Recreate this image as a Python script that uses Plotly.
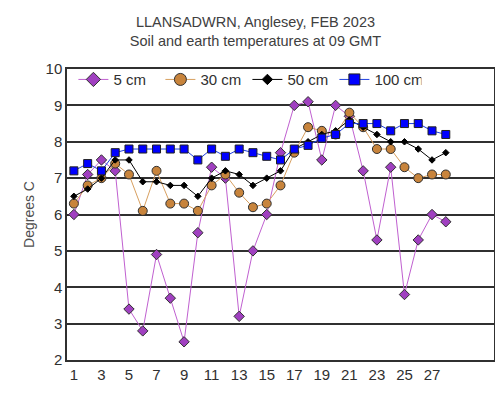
import plotly.graph_objects as go

days = list(range(1, 29))
t5 = [6.0, 7.1, 7.5, 7.2, 3.4, 2.8, 4.9, 3.7, 2.5, 5.5, 7.3, 7.0, 3.2, 5.0, 6.0, 7.7,
      9.0, 9.1, 7.5, 9.0, 8.7, 7.2, 5.3, 7.3, 3.8, 5.3, 6.0, 5.8]
t30 = [6.3, 6.8, 7.0, 7.4, 7.1, 6.1, 7.2, 6.3, 6.3, 6.1, 6.8, 7.1, 6.6, 6.2, 6.3, 6.8,
       7.7, 8.4, 8.3, 8.2, 8.8, 8.4, 7.8, 7.8, 7.3, 7.0, 7.1, 7.1]
t50 = [6.5, 6.7, 7.0, 7.5, 7.5, 6.9, 6.9, 6.8, 6.8, 6.5, 7.0, 7.2, 7.1, 6.8, 7.0, 7.2,
       7.8, 8.0, 8.2, 8.3, 8.6, 8.4, 8.2, 8.0, 8.0, 7.8, 7.5, 7.7]
t100 = [7.2, 7.4, 7.2, 7.7, 7.8, 7.8, 7.8, 7.8, 7.8, 7.5, 7.8, 7.6, 7.8, 7.7, 7.6, 7.5,
        7.8, 7.9, 8.1, 8.2, 8.5, 8.5, 8.5, 8.3, 8.5, 8.5, 8.3, 8.2]
x_ticks = list(range(1, 28, 2))

series = [
    ("5 cm", t5, "#C060D0", "diamond", 8, 11, "#A040C0", "#303030"),
    ("30 cm", t30, "#D8A060", "circle", 9, 12, "#C8843C", "#303030"),
    ("50 cm", t50, "#000000", "diamond", 5, 8, "#000000", "#000000"),
    ("100 cm", t100, "#2040E0", "square", 8, 11, "#0000FF", "#202020"),
]

fig = go.Figure()
for name, vals, lc, sym, sz, lsz, fc, oc in series:
    fig.add_trace(go.Scatter(x=days, y=vals, name=name, mode="lines+markers",
                             showlegend=False, legendgroup=name,
                             line=dict(color=lc, width=1),
                             marker=dict(symbol=sym, size=sz, color=fc,
                                         line=dict(color=oc, width=1))))
for name, vals, lc, sym, sz, lsz, fc, oc in series:
    fig.add_trace(go.Scatter(x=[None], y=[None], name=name, mode="lines+markers",
                             legendgroup=name,
                             line=dict(color=lc, width=1),
                             marker=dict(symbol=sym, size=lsz, color=fc,
                                         line=dict(color=oc, width=1))))

fig.update_layout(
    width=495, height=389,
    margin=dict(l=59, r=7, t=61, b=37),
    paper_bgcolor="white", plot_bgcolor="white",
    font=dict(family="Arial, Liberation Sans, sans-serif", size=15, color="#404040"),
    title=dict(text="LLANSADWRN, Anglesey, FEB 2023<br>Soil and earth temperatures at 09 GMT",
               x=0.5, xref="container", xanchor="center", y=0.952, yanchor="middle",
               font=dict(size=14.5, color="#404040")),
    showlegend=True,
    legend=dict(orientation="h", x=0.015, y=1.02, xanchor="left", yanchor="top",
                bgcolor="rgba(255,255,255,0)", font=dict(size=15, color="#303030"),
                entrywidth=42, itemwidth=30, tracegroupgap=0),
    xaxis=dict(range=[0.5, 31.5], tickvals=x_ticks, ticktext=[str(v) for v in x_ticks],
               showgrid=False, zeroline=False, showline=True, linecolor="#303030",
               linewidth=1.5, mirror=True, ticks="", tickfont=dict(size=15, color="#303030")),
    yaxis=dict(range=[2, 10], dtick=1, showgrid=True, gridcolor="#303030", gridwidth=1.5,
               zeroline=False, showline=True, linecolor="#303030", linewidth=1.5,
               mirror=True, ticks="", tickfont=dict(size=15, color="#303030"),
               title=dict(text="Degrees C", font=dict(size=14, color="#505050"), standoff=8)),
)

fig.write_html("out.html")
